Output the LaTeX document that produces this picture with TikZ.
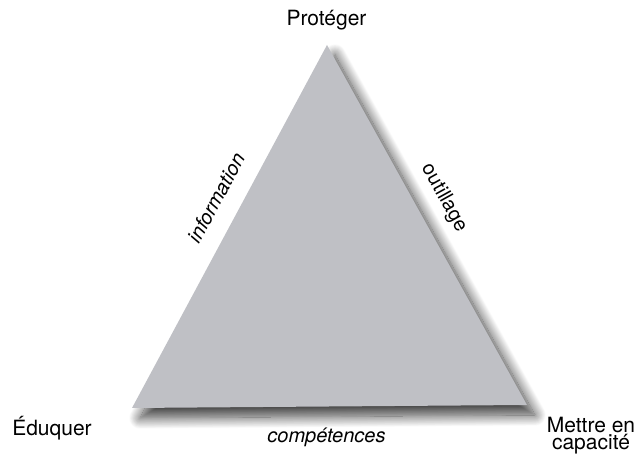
\documentclass[tikz,border=0pt]{standalone}
\usepackage{fontspec}
\setmainfont{TeX Gyre Heros}
\usepackage{tikz}
\usetikzlibrary{shadows.blur}
\definecolor{trigray}{RGB}{191,192,197}
\newcommand{\PXFONT}[1]{\fontsize{#1}{#1}\selectfont}

\begin{document}
\begin{tikzpicture}[x=1pt,y=1pt]
    \useasboundingbox (0,0) rectangle (643,457);

    \coordinate (top)   at (327,412);
    \coordinate (left)  at (132,49);
    \coordinate (right) at (527,52);

    \fill[trigray,blur shadow={shadow xshift=8pt,shadow yshift=-10pt,
        shadow blur radius=11pt,shadow blur steps=20,shadow opacity=75}]
        (left) -- (top) -- (right) -- cycle;

    \node (proteger) at (326.5,431) [anchor=base,inner sep=0pt] {\PXFONT{21}Protéger};
    \node (eduquer) at (52,21) [anchor=base,inner sep=0pt] {\PXFONT{21}Éduquer};
    \node (mettre) at (591,40) [anchor=north,inner sep=0pt,align=center,
        font={\fontsize{21}{17}\selectfont}] {Mettre en\\capacité};

    \node (competences) at (326.5,14) [anchor=base,inner sep=0pt] {\PXFONT{20}\itshape compétences};
    \node (information) at (216,259) [rotate=61.6,inner sep=0pt] {\PXFONT{20}\itshape information};
    \node (outillage) at (444,259) [rotate=-61,inner sep=0pt] {\PXFONT{20}outillage};
\end{tikzpicture}
\end{document}
